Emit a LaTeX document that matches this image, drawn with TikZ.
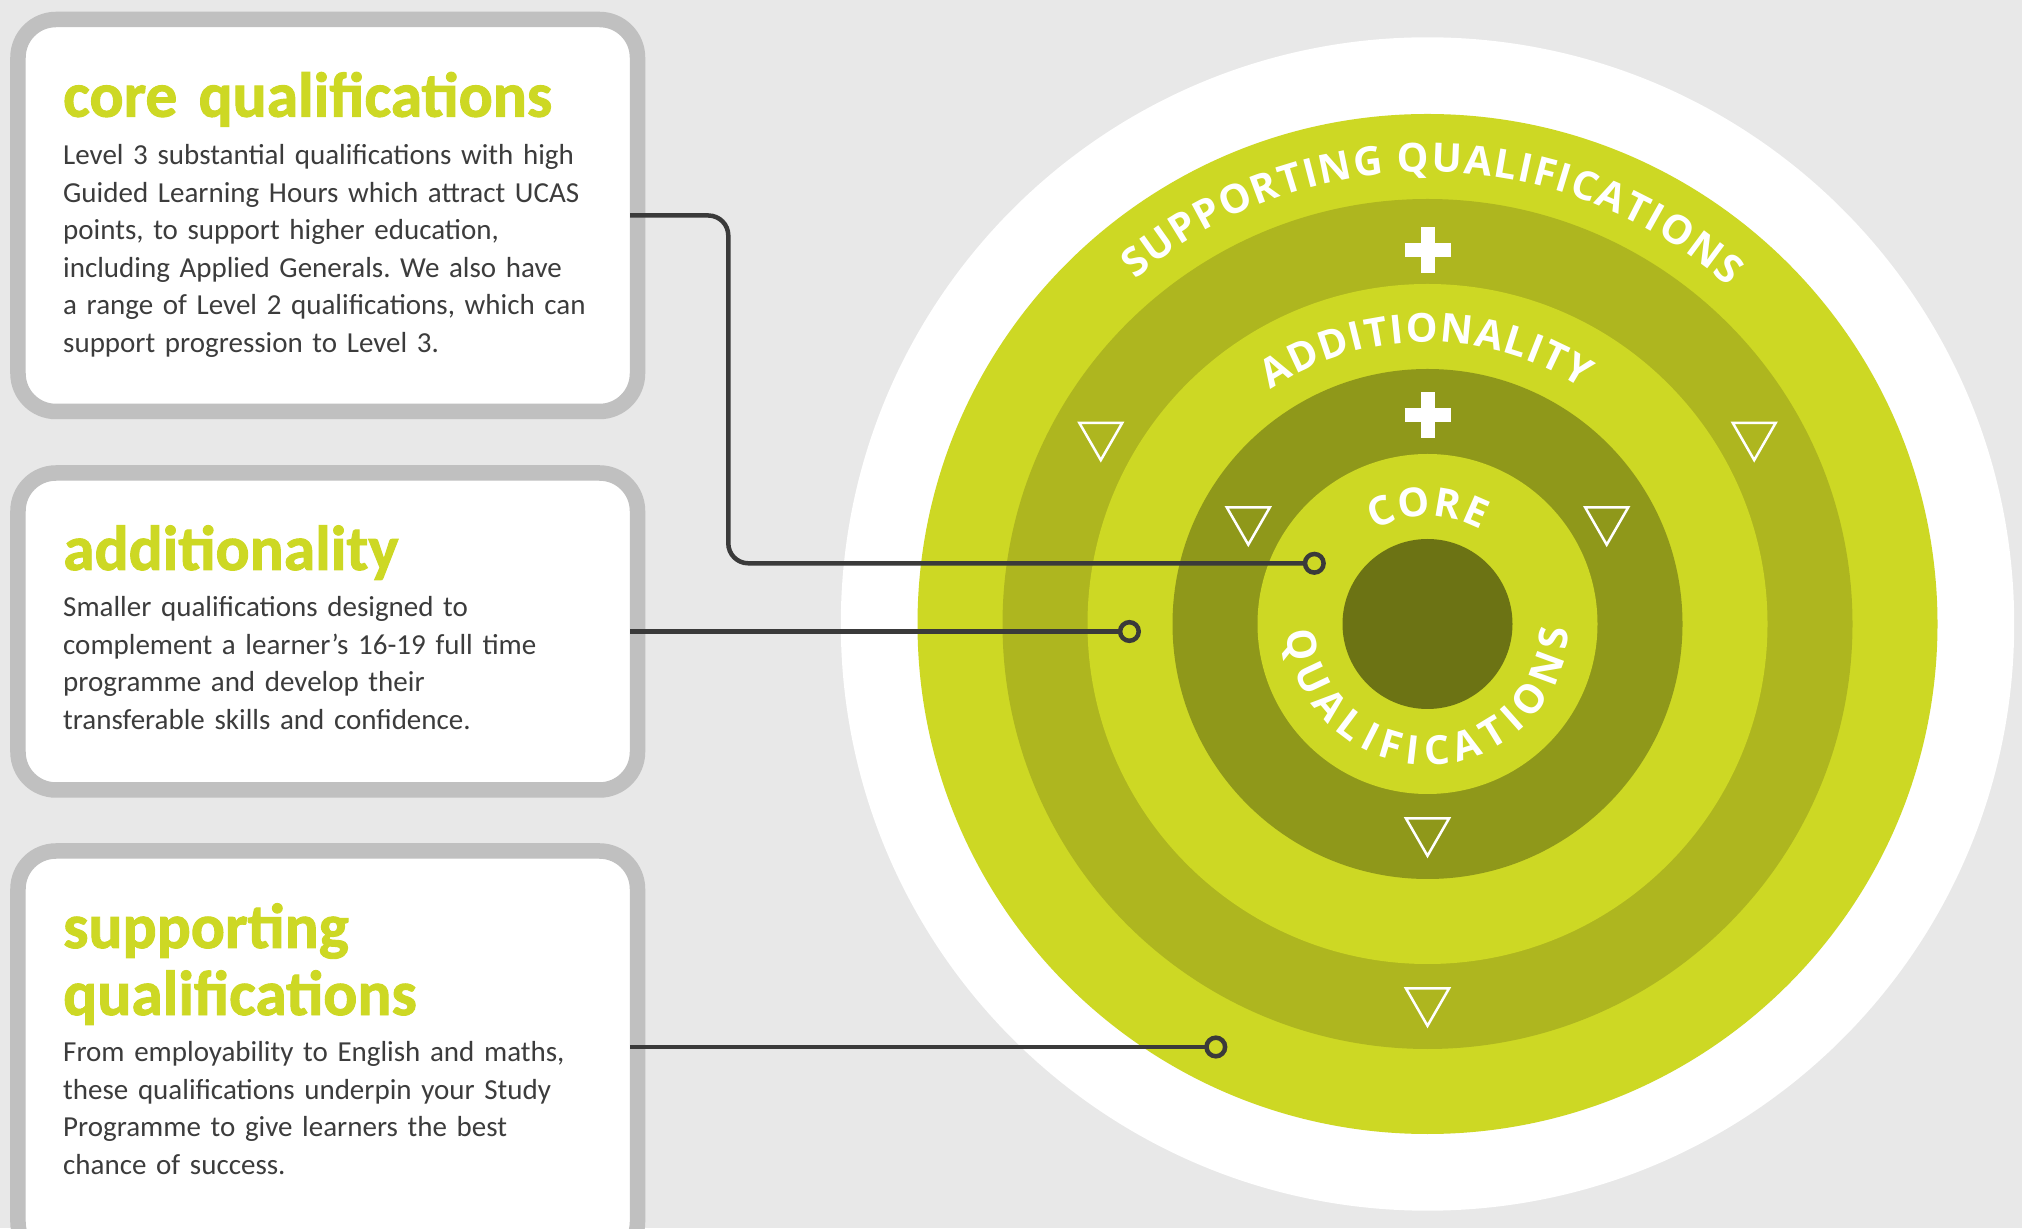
\documentclass[tikz,border=0pt]{standalone}
\usepackage{fontspec}
\setmainfont{Carlito}
\newfontfamily\ttlfont{Carlito}[FakeBold=1.5]
\newfontfamily\arcfont{Open Sans}
\usetikzlibrary{decorations.text}
\definecolor{bgc}{HTML}{E8E8E8}
\definecolor{lime}{HTML}{CDD824}
\definecolor{midg}{HTML}{AEB61F}
\definecolor{darkg}{HTML}{8F981A}
\definecolor{coreg}{HTML}{6C7314}
\definecolor{boxgray}{HTML}{C0C0C0}
\definecolor{ink}{HTML}{3A3A3A}
\definecolor{bodyink}{HTML}{3C3C3C}
\newcommand\arcfnt{\arcfont\bfseries\fontsize{40bp}{40bp}\selectfont}
\frenchspacing
\begin{document}
\begin{tikzpicture}[x=1bp,y=1bp,
  qbox/.style={draw=boxgray, line width=15.5bp, fill=white, rounded corners=38bp, minimum width=619.5bp, outer sep=0pt, inner sep=0pt},
  ttl/.style={anchor=base west, inner sep=0pt, text=lime, font=\ttlfont\bfseries\fontsize{63.5bp}{67bp}\selectfont, align=left, text width=560bp},
  body/.style={anchor=base west, inner sep=0pt, text=bodyink, font=\fontsize{29bp}{37.5bp}\selectfont, align=left, text width=570bp},
  conn/.style={draw=ink, line width=4.5bp, rounded corners=20bp},
  endring/.style={circle, draw=ink, line width=4.5bp, minimum size=18.6bp, inner sep=0pt, outer sep=0pt},
  arctext/.style={decorate, decoration={text along path, text align=fit to path, text color=white}},
  plussign/.pic={\draw[white, line width=14bp] (-23,0)--(23,0) (0,-23)--(0,23);},
  downtri/.pic={\draw[white, line width=2.5bp, line join=miter] (-21.5,19.3)--(21.5,19.3)--(0,-18)--cycle;}
]
\useasboundingbox (0,0) rectangle (2022,1228);
\clip (0,0) rectangle (2022,1228);
\fill[bgc] (0,0) rectangle (2022,1228);

% target rings
\coordinate (ctr) at (1427.5,604);
\fill[white] (ctr) circle[radius=586.7];
\fill[lime]  (ctr) circle[radius=510];
\fill[midg]  (ctr) circle[radius=425];
\fill[lime]  (ctr) circle[radius=340];
\fill[darkg] (ctr) circle[radius=255];
\fill[lime]  (ctr) circle[radius=170];
\fill[coreg] (ctr) circle[radius=85];

\pic at (1427.5,978.3) {plussign};
\pic at (1427.5,813.3) {plussign};

\pic at (1100.8,785.9) {downtri};
\pic at (1754.2,785.9) {downtri};
\pic at (1248.3,701.3) {downtri};
\pic at (1606.7,701.3) {downtri};
\pic at (1427.5,390.2) {downtri};
\pic at (1427.5,220.2) {downtri};

\path[arctext, decoration={text={|\arcfnt|SUPPORTING QUALIFICATIONS}}]
  ([shift={(130.3:452)}]ctr) arc[start angle=130.3, end angle=48.3, radius=452];
\path[arctext, decoration={text={|\arcfnt|ADDITIONALITY}}]
  ([shift={(123.9:282)}]ctr) arc[start angle=123.9, end angle=56.8, radius=282];
\path[arctext, decoration={text={|\arcfnt|CORE}}]
  ([shift={(119.5:108)}]ctr) arc[start angle=119.5, end angle=60.5, radius=108];
\path[arctext, decoration={text={|\arcfnt|QUALIFICATIONS}}]
  ([shift={(183.2:141)}]ctr) arc[start angle=183.2, end angle=358.2, radius=141];

% boxes
\node[qbox, minimum height=392bp] (box1) at (327.75,1012.5) {};
\node[qbox, minimum height=317bp] (box2) at (327.75,596.5) {};
\node[qbox, minimum height=409bp] (box3) at (327.75,172.5) {};

\node[ttl] (h1) at (63,1111.3) {core qualifications};
\node[body] (b1) at (63,1063) {Level 3 substantial qualifications with high\\
Guided Learning Hours which attract UCAS\\
points, to support higher education,\\
including Applied Generals. We also have\\
a range of Level 2 qualifications, which can\\
support progression to Level 3.};

\node[ttl] (h2) at (63,658) {additionality};
\node[body] (b2) at (63,611.3) {Smaller qualifications designed to\\
complement a learner’s 16-19 full time\\
programme and develop their\\
transferable skills and confidence.};

\node[ttl] (h3) at (63,280) {supporting\\qualifications};
\node[body] (b3) at (63,166.3) {From employability to English and maths,\\
these qualifications underpin your Study\\
Programme to give learners the best\\
chance of success.};

% connectors
\node[endring] (e1) at (1314.3,664.7) {};
\node[endring] (e2) at (1129.4,596.5) {};
\node[endring] (e3) at (1215.8,181) {};
\coordinate (bend1) at (728.3,664.7);
\coordinate (s1) at ([xshift=-7.5bp]box1.east);
\coordinate (s2) at ([xshift=-7.5bp]box2.east);
\coordinate (s3) at ([xshift=-7.5bp]box3.east);
\draw[conn] (s1) -| (bend1) -- (e1.west);
\draw[conn] (s2) -- (e2.west);
\draw[conn] (s3 |- e3) -- (e3.west);
\end{tikzpicture}
\end{document}
